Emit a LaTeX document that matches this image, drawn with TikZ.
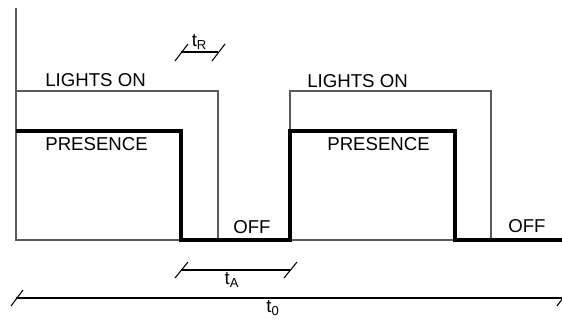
\documentclass[tikz,border=0pt]{standalone}
\usepackage{fontspec}
\setmainfont{Liberation Sans}
\usetikzlibrary{positioning}
\definecolor{linecolor}{RGB}{90,90,90}

\begin{document}
\begin{tikzpicture}[
    x=0.02cm, y=-0.02cm,
    textlabel/.style={inner sep=0pt, anchor=base west, font=\fontsize{10.6}{12}\selectfont},
    dimlabel/.style={inner sep=1pt, font=\fontsize{10.6}{12}\selectfont},
    thinline/.style={draw=linecolor, line width=0.6pt},
    thickline/.style={draw=black, line width=2.2pt, line join=miter},
    dimline/.style={draw=black, line width=0.6pt},
    slash/.style={draw=black, line width=0.6pt}
]
    \useasboundingbox (0,0) rectangle (562,322);

    % Axis and corners
    \coordinate (top) at (16,8);
    \coordinate (origin) at (16,240);
    \coordinate (end) at (562,240);
    \coordinate (lon1) at (16,91);
    \coordinate (loff1) at (218,240);
    \coordinate (lon2) at (290,240);
    \coordinate (loff2) at (491,240);
    \coordinate (pon1) at (16,131);
    \coordinate (poff1) at (181,240);
    \coordinate (pon2) at (290,240);
    \coordinate (poff2) at (455,240);

    % Lights signal (thin)
    \draw[thinline] (top) -- (origin) -- (end);
    \draw[thinline] (lon1) -| (loff1);
    \draw[thinline] (lon2) |- (lon1 -| loff2) -- (loff2);

    % Presence signal (thick)
    \draw[thickline] (pon1) -| (poff1) -- (pon2) |- (pon1 -| poff2) -- (poff2) -- (end);

    % Labels
    \node[textlabel] (lights1) at (45,86) {LIGHTS ON};
    \node[textlabel] (lights2) at (307,87) {LIGHTS ON};
    \node[textlabel] (presence1) at (45,150) {PRESENCE};
    \node[textlabel] (presence2) at (327,150) {PRESENCE};
    \node[textlabel] (off1) at (233,233) {OFF};
    \node[textlabel] (off2) at (508,232) {OFF};

    % t_R
    \coordinate (tr1) at (181,52);
    \coordinate (tr2) at (218,52);
    \draw[dimline] (tr1) -- (tr2) node[dimlabel, midway, above] (tr) {t\textsubscript{R}};
    \draw[slash] (tr1) ++(-6,9) -- ++(13,-17);
    \draw[slash] (tr2) ++(-6,9) -- ++(13,-17);

    % t_A
    \coordinate (ta1) at (181,270);
    \coordinate (ta2) at (290,270);
    \draw[dimline] (ta1) -- (ta2) node[dimlabel, midway, below, xshift=-2pt] (ta) {t\textsubscript{A}};
    \draw[slash] (ta1) ++(-6,8) -- ++(13,-16);
    \draw[slash] (ta2) ++(-6,8) -- ++(13,-16);

    % t_0
    \coordinate (t01) at (16,298);
    \coordinate (t02) at (562,298);
    \draw[dimline] (t01) -- (t02);
    \node[dimlabel, below=0pt of t01, anchor=north, xshift=257*0.02cm] (t0) {t\textsubscript{0}};
    \draw[slash] (t01) ++(-5,8) -- ++(12,-16);
    \draw[slash] (t02) ++(-5,8) -- ++(12,-16);

\end{tikzpicture}
\end{document}
